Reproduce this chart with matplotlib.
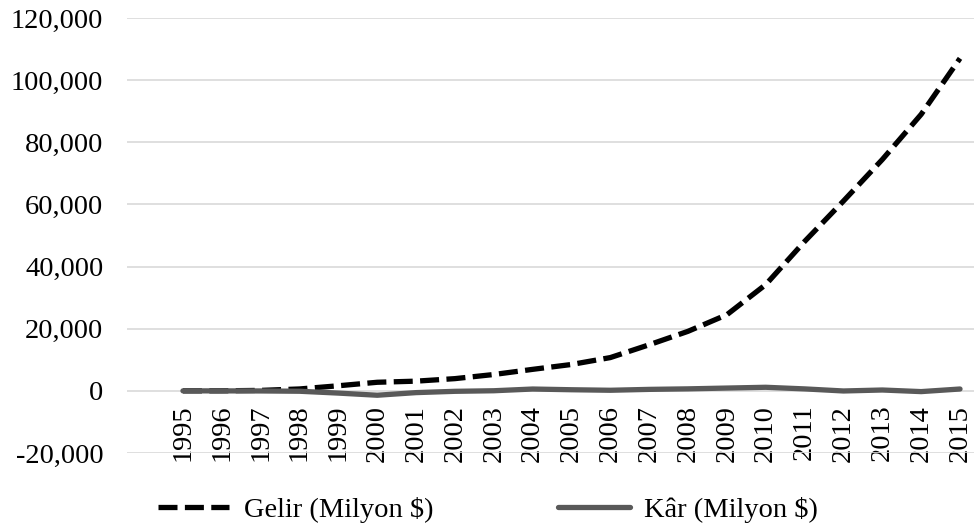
import matplotlib
matplotlib.use("Agg")
import matplotlib.pyplot as plt
from matplotlib.ticker import FuncFormatter

years = list(range(1995, 2016))
# Gelir (Milyon $)
gelir = [0.5, 15.7, 148, 610, 1640, 2762, 3122, 3933, 5264, 6921, 8490,
         10711, 14835, 19166, 24509, 34204, 48077, 61093, 74452, 88988, 107006]
# Kâr (Milyon $)
kar = [-0.3, -6, -31, -125, -720, -1411, -567, -149, 35, 588, 359,
       190, 476, 645, 902, 1152, 631, -39, 274, -241, 596]

plt.rcParams['font.family'] = ['Liberation Serif', 'DejaVu Serif']
fs = 20.5

fig = plt.figure(figsize=(9.74, 5.32), dpi=100)
ax = fig.add_axes([127/974, 79/532, 847/974, 435/532])
ax.spines['bottom'].set_position(('data', 0))

ax.plot(years, gelir, color='black', lw=3.8, ls=(0, (3.6, 1.4)),
        label='Gelir (Milyon $)', solid_capstyle='butt')
ax.plot(years, kar, color='#595959', lw=3.8, label='Kâr (Milyon $)',
        solid_capstyle='round')

ax.set_ylim(-20000, 120000)
ax.set_xlim(1993.56, 2015.36)
ax.set_yticks(range(-20000, 120001, 20000))
ax.yaxis.set_major_formatter(FuncFormatter(lambda v, p: f"{int(v):,}"))
ax.grid(axis='y', color='#d9d9d9', lw=1.2)
ax.set_axisbelow(True)

ax.set_xticks(years)
ax.set_xticklabels([str(y) for y in years])
for s in ax.spines.values():
    s.set_visible(False)
ax.tick_params(axis='x', length=0, pad=10, labelrotation=90, labelsize=fs)
ax.tick_params(axis='y', length=0, pad=17, labelsize=fs)

fig.legend(loc='center', bbox_to_anchor=(488/974, 1 - 510/532), ncol=2,
           frameon=False, fontsize=fs, handlelength=2.5, handletextpad=0.5,
           columnspacing=4.4)

fig.savefig('out.png', dpi=100)
